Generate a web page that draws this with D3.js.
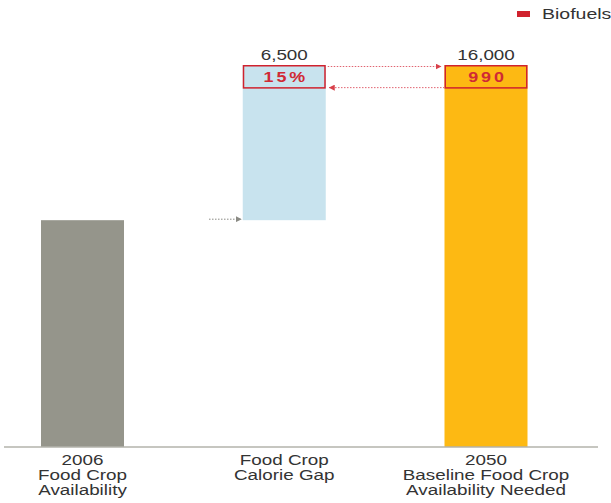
<!DOCTYPE html>
<html>
<head>
<meta charset="utf-8">
<script src="https://cdn.jsdelivr.net/npm/d3@7/dist/d3.min.js"></script>
<style>
  html, body { margin: 0; padding: 0; background: #fff; }
  svg { display: block; font-family: "Liberation Sans", Arial, sans-serif; }
</style>
</head>
<body>
<svg id="chart" width="611" height="503"></svg>
<script>
// Food crop calorie waterfall (trillion kcal per year)
const categories = ["2006", "gap", "2050"];
const categoryLabels = [
  ["2006", "Food Crop", "Availability"],
  ["Food Crop", "Calorie Gap"],
  ["2050", "Baseline Food Crop", "Availability Needed"]
];
const baseValues = [0, 9500, 0];        // bar start
const barValues = [9500, 6500, 16000];  // bar size
const valueLabels = ["", "6,500", "16,000"];
const biofuelValues = [0, 990, 990];    // red-outlined biofuel share at top of bar
const biofuelLabels = ["", "15%", "990"];
const legendItems = ["Biofuels"];

const fills = ["#95958b", "#c8e3ee", "#fdb913"];
const red = "#d0222e";
const textColor = "#333333";
const stretch = 1.3;

const svg = d3.select("#chart");
const baseline = 447;

const x = d3.scalePoint().domain(categories).range([82.5, 486]).padding(0);
const y = d3.scaleLinear().domain([0, 16000]).range([baseline, 65]);
const barW = 83;

// horizontally widened text helper
function label(g, cx, cy, txt, opts = {}) {
  const t = g.append("text")
    .attr("transform", `translate(${cx},${cy}) scale(${opts.sx || stretch},1)`)
    .attr("text-anchor", opts.anchor || "middle")
    .attr("font-size", opts.size || 15)
    .attr("font-weight", opts.weight || "normal")
    .attr("fill", opts.color || textColor)
    .text(txt);
  if (opts.ls) t.attr("letter-spacing", opts.ls);
  return t;
}

const defs = svg.append("defs");
function marker(id, color) {
  defs.append("marker")
    .attr("id", id)
    .attr("viewBox", "0 0 10 10")
    .attr("refX", 10).attr("refY", 5)
    .attr("markerWidth", 6).attr("markerHeight", 6)
    .attr("markerUnits", "userSpaceOnUse")
    .attr("orient", "auto")
    .append("path").attr("d", "M0,0 L10,5 L0,10 z").attr("fill", color);
}
marker("arrRed", "#d8404a");
marker("arrGray", "#8a8a84");

// bars
const bars = svg.append("g");
categories.forEach((c, i) => {
  const y0 = y(baseValues[i]);
  const y1 = y(baseValues[i] + barValues[i]);
  bars.append("rect")
    .attr("x", x(c) - barW / 2).attr("y", y1)
    .attr("width", barW).attr("height", y0 - y1)
    .attr("fill", fills[i]);
});

// axis baseline
svg.append("line")
  .attr("x1", 4).attr("x2", 598)
  .attr("y1", baseline).attr("y2", baseline)
  .attr("stroke", "#b3b3ab").attr("stroke-width", 1.5);

// biofuel boxes
categories.forEach((c, i) => {
  if (!biofuelValues[i]) return;
  const top = y(baseValues[i] + barValues[i]);
  const bot = y(baseValues[i] + barValues[i] - biofuelValues[i]);
  svg.append("rect")
    .attr("x", x(c) - barW / 2 + 0.75).attr("y", top + 0.75)
    .attr("width", barW - 1.5).attr("height", bot - top - 1.5)
    .attr("fill", "none").attr("stroke", red).attr("stroke-width", 1.5);
  label(svg, x(c) + 1.5, (top + bot) / 2 + 5, biofuelLabels[i],
    { size: 14, weight: "bold", color: "#d02a35", ls: 2.2, sx: 1.28 });
});

// value labels above bars
categories.forEach((c, i) => {
  if (!valueLabels[i]) return;
  label(svg, x(c), y(baseValues[i] + barValues[i]) - 5, valueLabels[i], { size: 14.5 });
});

// connector arrows
const topY = y(16000) + 1.5;
const botY = y(16000 - biofuelValues[1]) - 1;
svg.append("line")
  .attr("x1", x("gap") + barW / 2 + 2).attr("x2", x("2050") - barW / 2 - 3)
  .attr("y1", topY).attr("y2", topY)
  .attr("stroke", "#e06470").attr("stroke-width", 1)
  .attr("stroke-dasharray", "1.5,1.5")
  .attr("marker-end", "url(#arrRed)");
svg.append("line")
  .attr("x1", x("2050") - barW / 2).attr("x2", x("gap") + barW / 2 + 3)
  .attr("y1", botY).attr("y2", botY)
  .attr("stroke", "#e06470").attr("stroke-width", 1)
  .attr("stroke-dasharray", "1.5,1.5")
  .attr("marker-end", "url(#arrRed)");
const grayY = y(baseValues[1]) - 1;
svg.append("line")
  .attr("x1", 209).attr("x2", x("gap") - barW / 2 - 1)
  .attr("y1", grayY).attr("y2", grayY)
  .attr("stroke", "#8a8a84").attr("stroke-width", 1)
  .attr("stroke-dasharray", "1.5,1.5")
  .attr("marker-end", "url(#arrGray)");

// category labels
categories.forEach((c, i) => {
  categoryLabels[i].forEach((ln, j) => {
    label(svg, x(c), 465 + j * 15, ln, { size: 14.5 });
  });
});

// legend
legendItems.forEach((item, i) => {
  svg.append("rect").attr("x", 517).attr("y", 11).attr("width", 13).attr("height", 6).attr("fill", red);
  label(svg, 542, 19, item, { size: 15, anchor: "start" });
});
</script>
</body>
</html>
